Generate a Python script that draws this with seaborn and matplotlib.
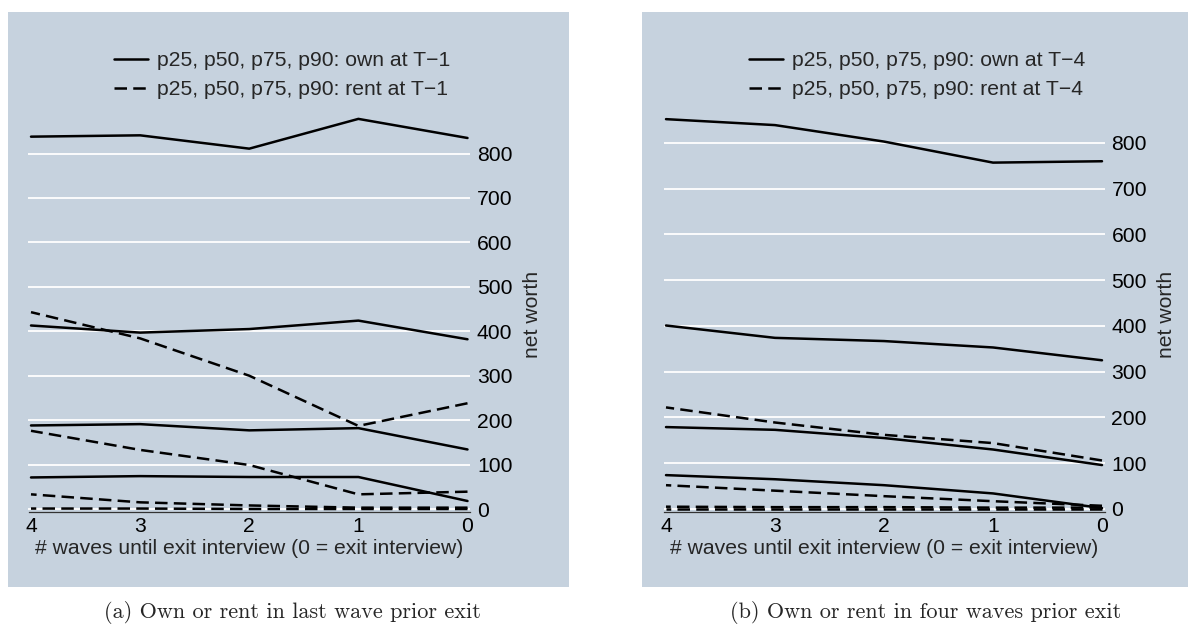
import numpy as np
import pandas as pd
import matplotlib
matplotlib.use("Agg")
import matplotlib.pyplot as plt
from matplotlib.lines import Line2D
from matplotlib.patches import Rectangle
import seaborn as sns

# ---------------- data ----------------
waves = [4, 3, 2, 1, 0]
pcts = ["p90", "p75", "p50", "p25"]

# Panel (a): own / rent at T-1
own_a = {
    "p90": [838, 841, 811, 878, 835],
    "p75": [413, 397, 405, 424, 382],
    "p50": [188, 191, 177, 182, 134],
    "p25": [71, 74, 72, 72, 18],
}
rent_a = {
    "p90": [443, 384, 300, 187, 238],
    "p75": [176, 133, 99, 33, 39],
    "p50": [33, 15, 8, 3, 3],
    "p25": [1, 1, 0, 0, 0],
}
# Panel (b): own / rent at T-4
own_b = {
    "p90": [852, 839, 803, 757, 760],
    "p75": [401, 374, 367, 353, 325],
    "p50": [179, 173, 155, 130, 96],
    "p25": [74, 65, 52, 34, 2],
}
rent_b = {
    "p90": [222, 189, 162, 144, 106],
    "p75": [52, 40, 28, 17, 7],
    "p50": [5, 4, 4, 3, 3],
    "p25": [0, 0, 0, 0, 0],
}
yticks = [0, 100, 200, 300, 400, 500, 600, 700, 800]
legend_a = ["p25, p50, p75, p90: own at T\u22121", "p25, p50, p75, p90: rent at T\u22121"]
legend_b = ["p25, p50, p75, p90: own at T\u22124", "p25, p50, p75, p90: rent at T\u22124"]
xlabel = "# waves until exit interview (0 = exit interview)"
ylabel = "net worth"
caption_a = "(a) Own or rent in last wave prior exit"
caption_b = "(b) Own or rent in four waves prior exit"


def to_long(own, rent):
    rows = []
    for status, d in (("own", own), ("rent", rent)):
        for p in pcts:
            for w, v in zip(waves, d[p]):
                rows.append({"wave": w, "value": v, "status": status, "pct": p})
    return pd.DataFrame(rows)


# ---------------- style ----------------
sns.set_style("white")
plt.rcParams["font.family"] = ["Liberation Sans", "DejaVu Sans"]

W, H = 1188, 625
BG = "#C6D2DE"
fig = plt.figure(figsize=(W / 100, H / 100), dpi=100)


def px_axes(x0, x1, y_top, y_bot):
    return fig.add_axes([x0 / W, 1 - y_bot / H, (x1 - x0) / W, (y_bot - y_top) / H])


# gray boxes (graph regions)
for bx0, bx1 in ((8, 569), (642, W)):
    fig.patches.append(Rectangle((bx0 / W, 1 - 587 / H), (bx1 - bx0) / W, (587 - 12) / H,
                                 transform=fig.transFigure, facecolor=BG,
                                 edgecolor="none", zorder=-5))

panels = [
    dict(own=own_a, rent=rent_a, x0=28.5, x1=470, ylim=(-6.75, 898), leg=legend_a,
         cap=caption_a, capx=292),
    dict(own=own_b, rent=rent_b, x0=663.5, x1=1104.5, ylim=(-6.6, 872), leg=legend_b,
         cap=caption_b, capx=926),
]

FS = 15.2
LW = 1.8
for p in panels:
    ax = px_axes(p["x0"], p["x1"], 110, 512)
    ax.set_facecolor(BG)
    df = to_long(p["own"], p["rent"])
    sns.lineplot(data=df, x="wave", y="value", style="status", units="pct",
                 estimator=None, color="black", linewidth=LW,
                 dashes={"own": "", "rent": (5, 2.5)}, legend=False, ax=ax, zorder=3)
    margin = 2.5 / 109.0
    ax.set_xlim(4 + margin, 0 - margin)
    ax.set_ylim(*p["ylim"])
    ax.set_xticks(waves)
    ax.set_xticklabels([str(w) for w in waves])
    ax.set_yticks(yticks)
    ax.set_yticklabels([str(v) for v in yticks])
    ax.yaxis.tick_right()
    ax.grid(axis="y", color="white", linewidth=1.3, zorder=1)
    ax.grid(axis="x", visible=False)
    ax.set_axisbelow(True)
    for s in ["top", "left", "right"]:
        ax.spines[s].set_visible(False)
    ax.spines["bottom"].set_color("#333333")
    ax.spines["bottom"].set_linewidth(0.9)
    ax.tick_params(axis="x", direction="in", length=5, width=0.8, color="#333333",
                   pad=3.5, labelsize=FS, labelcolor="black")
    ax.tick_params(axis="y", length=0, pad=5, labelsize=FS, labelcolor="black",
                   left=False, right=True, labelleft=False, labelright=True)
    ax.set_xlabel(xlabel, fontsize=FS)
    ax.xaxis.set_label_coords(0.5, (512 - 548) / 402)
    ax.xaxis.label.set_va("center")
    ax.set_ylabel(ylabel, fontsize=FS)
    ax.yaxis.set_label_position("right")
    ax.yaxis.set_label_coords((532 - 28.5) / 441.5, (512 - 314) / 402)
    ax.yaxis.label.set_rotation(90)
    ax.yaxis.label.set_va("center")
    ax.yaxis.label.set_ha("center")

    handles = [Line2D([], [], color="black", linewidth=LW),
               Line2D([], [], color="black", linewidth=LW, dashes=(5, 2.5))]
    hx = p["x0"] + 85.5
    ax.legend(handles, p["leg"], loc="upper left",
              bbox_to_anchor=(hx / W, 1 - 51.5 / H), bbox_transform=fig.transFigure,
              frameon=False, fontsize=FS, handlelength=1.6, handletextpad=0.45,
              labelspacing=0.47, borderpad=0, borderaxespad=0)

    fig.text(p["capx"] / W, 1 - 612 / H, p["cap"], ha="center", va="center",
             fontsize=16, family="cmr10")

fig.savefig("out.png", dpi=100)
